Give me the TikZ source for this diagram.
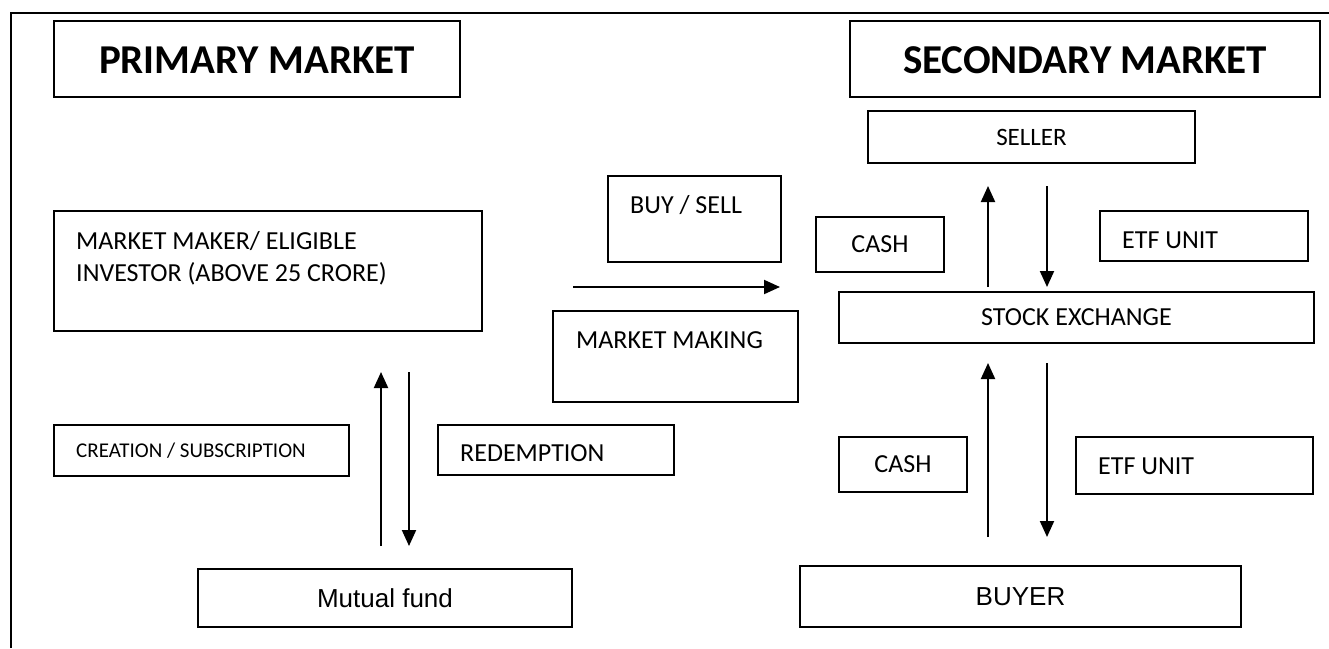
\documentclass[tikz,border=0pt]{standalone}
\usepackage{fontspec}
\setmainfont{Carlito}
\newfontfamily\arialf{Liberation Sans}
\usetikzlibrary{arrows.meta}
\tikzset{
  box/.style={draw=black, line width=1.6pt, rectangle, inner sep=0pt, align=center},
  txt/.style={inner sep=0pt, font=\fontsize{26}{32}\selectfont},
  ttl/.style={inner sep=0pt, font=\fontsize{41}{48}\selectfont\bfseries},
  flow/.style={line width=2pt, -{Triangle[length=16pt,width=14pt]}},
}
\begin{document}
\begin{tikzpicture}[x=1pt,y=-1pt]
\useasboundingbox (0,0) rectangle (1329,648);
\fill[white] (0,0) rectangle (1329,648);
% outer frame (cut off at right and bottom)
\draw[line width=1.6pt] (11,648) -- (11,13) -- (1329,13);

% titles
\node[box, minimum width=406pt, minimum height=76pt] (pm) at (257,59) {};
\node[ttl] (pmt) at (257,60) {PRIMARY MARKET};
\node[box, minimum width=470pt, minimum height=76pt] (sm) at (1085,59) {};
\node[ttl] (smt) at (1085,60) {SECONDARY MARKET};

% right column
\node[box, minimum width=327pt, minimum height=52pt, font=\fontsize{25}{30}\selectfont] (seller) at (1031.5,137) {SELLER};
\node[box, minimum width=128pt, minimum height=55pt, font=\fontsize{26}{32}\selectfont] (cash1) at (880,244.5) {CASH};
\node[box, minimum width=208pt, minimum height=50pt] (etf1) at (1204,236) {};
\node[txt, anchor=base west] (etf1t) at (1122,248) {ETF UNIT};
\node[box, minimum width=475pt, minimum height=51pt, font=\fontsize{26}{32}\selectfont] (se) at (1076.5,317.5) {STOCK EXCHANGE};
\node[box, minimum width=128pt, minimum height=55pt, font=\fontsize{26}{32}\selectfont] (cash2) at (903,464.5) {CASH};
\node[box, minimum width=237pt, minimum height=57pt] (etf2) at (1194.5,465.5) {};
\node[txt, anchor=base west] (etf2t) at (1098,474) {ETF UNIT};
\node[box, minimum width=441pt, minimum height=61pt, font=\arialf\fontsize{26}{30}\selectfont] (buyer) at (1020.5,596.5) {BUYER};

% middle column
\node[box, minimum width=173pt, minimum height=86pt] (bs) at (694.5,219) {};
\node[txt, anchor=base west] (bst) at (630,213) {BUY / SELL};
\node[box, minimum width=245pt, minimum height=91pt] (mmk) at (675.5,356.5) {};
\node[txt, anchor=base west] (mmkt) at (576,348) {MARKET MAKING};

% left column
\node[box, minimum width=428pt, minimum height=120pt] (mm) at (268,271) {};
\node[txt, anchor=base west] (mmt1) at (76,249) {MARKET MAKER/ ELIGIBLE};
\node[txt, anchor=base west] (mmt2) at (76,281) {INVESTOR (ABOVE 25 CRORE)};
\node[box, minimum width=295pt, minimum height=51pt] (cr) at (201.5,450.5) {};
\node[txt, anchor=base west, font=\fontsize{21}{26}\selectfont] (crt) at (76,457) {CREATION / SUBSCRIPTION};
\node[box, minimum width=236pt, minimum height=50pt] (rd) at (556,450) {};
\node[txt, anchor=base west] (rdt) at (460,461) {REDEMPTION};
\node[box, minimum width=374pt, minimum height=58pt, font=\arialf\fontsize{26}{30}\selectfont] (mf) at (385,598) {Mutual fund};

% arrow end points
\coordinate (h1) at (573,287);
\coordinate (h2) at (780,287);
\coordinate (u1a) at (988,287);
\coordinate (u1b) at (988,186);
\coordinate (d1a) at (1047,186);
\coordinate (d1b) at (1047,287);
\coordinate (u2a) at (988,537);
\coordinate (u2b) at (988,363);
\coordinate (d2a) at (1047,363);
\coordinate (d2b) at (1047,537);
\coordinate (u3a) at (381,546);
\coordinate (u3b) at (381,372);
\coordinate (d3a) at (409,372);
\coordinate (d3b) at (409,546);

\draw[flow] (h1) -- (h2);
\draw[flow] (u1a) -- (u1b);
\draw[flow] (d1a) -- (d1b);
\draw[flow] (u2a) -- (u2b);
\draw[flow] (d2a) -- (d2b);
\draw[flow] (u3a) -- (u3b);
\draw[flow] (d3a) -- (d3b);
\end{tikzpicture}
\end{document}
